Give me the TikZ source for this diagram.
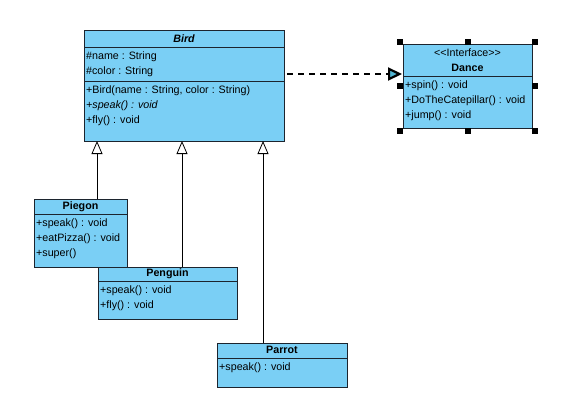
\documentclass[tikz,border=0pt]{standalone}
\usepackage{fontspec}
\setmainfont{Liberation Sans}
\usetikzlibrary{arrows.meta,calc}
\definecolor{umlfill}{RGB}{122,207,245}
\definecolor{umledge}{RGB}{28,36,46}
\definecolor{tipfill}{RGB}{80,180,210}
\begin{document}
\begin{tikzpicture}[x=1pt,y=-1pt,
  classbox/.style={draw=umledge, fill=umlfill, line width=1pt, anchor=north west, inner sep=0pt, outer sep=0pt},
  title/.style={font=\fontsize{10.7}{12}\selectfont\bfseries, anchor=center, inner sep=0pt},
  member/.style={font=\fontsize{10.7}{12}\selectfont, anchor=west, inner sep=0pt},
  divider/.style={draw=umledge, line width=0.9pt},
  inherit/.style={draw=black, line width=0.8pt, -{Triangle[open, width=11pt, length=13pt, fill=white]}},
  realize/.style={draw=black, line width=2.8pt, dash pattern=on 6pt off 5pt,
    -{Triangle[open, width=13pt, length=14pt, fill=tipfill, line width=2.2pt]}},
  handle/.style={fill=black, minimum size=6pt, inner sep=0pt, outer sep=0pt}
]
\useasboundingbox[fill=white] (0,0) rectangle (568,412);

% ---- Bird (abstract class) ----
\node[classbox, minimum width=200pt, minimum height=110pt] (bird) at (84,31) {};
\draw[divider] ($(bird.north west)+(0,16)$) -- ($(bird.north east)+(0,16)$);
\draw[divider] ($(bird.north west)+(0,50)$) -- ($(bird.north east)+(0,50)$);
\node[title, font=\fontsize{10.7}{12}\selectfont\bfseries\itshape] (birdtitle) at ($(bird.north)+(0,8)$) {Bird};
\node[member] (birdname)  at ($(bird.north west)+(2,26)$) {\#name : String};
\node[member] (birdcolor) at ($(bird.north west)+(2,41)$) {\#color : String};
\node[member] (birdctor)  at ($(bird.north west)+(2,60)$) {+Bird(name : String, color : String)};
\node[member, font=\fontsize{10.7}{12}\selectfont\itshape] (birdspeak) at ($(bird.north west)+(2,75)$) {+speak() : void};
\node[member] (birdfly)   at ($(bird.north west)+(2,90)$) {+fly() : void};

% ---- Dance (interface) ----
\node[classbox, minimum width=129pt, minimum height=83pt] (dance) at (403,45) {};
\draw[divider] ($(dance.north west)+(0,31)$) -- ($(dance.north east)+(0,31)$);
\node[title, font=\fontsize{10.7}{12}\selectfont] (dancestereo) at ($(dance.north)+(0,8)$) {<{}<Interface>{}>};
\node[title] (dancetitle) at ($(dance.north)+(0,23)$) {Dance};
\node[member] (dancespin) at ($(dance.north west)+(2,41)$) {+spin() : void};
\node[member] (dancecat)  at ($(dance.north west)+(2,56)$) {+DoTheCatepillar() : void};
\node[member] (dancejump) at ($(dance.north west)+(2,71)$) {+jump() : void};

% selection handles around Dance
\foreach \a/\dx/\dy in {north west/-3/-3, north/0/-3, north east/3/-3,
                        west/-3/0, east/3/0,
                        south west/-3/3, south/0/3, south east/3/3}
  \node[handle] at ($(dance.\a)+(\dx,\dy)$) {};

% ---- Piegon ----
\node[classbox, minimum width=93pt, minimum height=68pt] (piegon) at (34,199) {};
\draw[divider] ($(piegon.north west)+(0,15)$) -- ($(piegon.north east)+(0,15)$);
\node[title] (piegontitle) at ($(piegon.north)+(0,8)$) {Piegon};
\node[member] (piegonspeak) at ($(piegon.north west)+(2,25)$) {+speak() : void};
\node[member] (piegoneat)   at ($(piegon.north west)+(2,40)$) {+eatPizza() : void};
\node[member] (piegonsuper) at ($(piegon.north west)+(2,55)$) {+super()};

% ---- Penguin ----
\node[classbox, minimum width=139pt, minimum height=52pt] (penguin) at (98,267) {};
\draw[divider] ($(penguin.north west)+(0,14)$) -- ($(penguin.north east)+(0,14)$);
\node[title] (penguintitle) at ($(penguin.north)+(0,7)$) {Penguin};
\node[member] (penguinspeak) at ($(penguin.north west)+(2,24)$) {+speak() : void};
\node[member] (penguinfly)   at ($(penguin.north west)+(2,39)$) {+fly() : void};

% ---- Parrot ----
\node[classbox, minimum width=130pt, minimum height=44pt] (parrot) at (217,343) {};
\draw[divider] ($(parrot.north west)+(0,15)$) -- ($(parrot.north east)+(0,15)$);
\node[title] (parrottitle) at ($(parrot.north)+(0,7)$) {Parrot};
\node[member] (parrotspeak) at ($(parrot.north west)+(2,25)$) {+speak() : void};

% ---- generalisations ----
\coordinate (pgtop) at ($(piegon.north west)+(63,0)$);
\coordinate (pntop) at ($(penguin.north west)+(84,0)$);
\coordinate (prtop) at ($(parrot.north west)+(46,0)$);
\draw[inherit] (pgtop) -- (pgtop |- bird.south);
\draw[inherit] (pntop) -- (pntop |- bird.south);
\draw[inherit] (prtop) -- (prtop |- bird.south);

% ---- realization ----
\coordinate (dtip) at ($(dance.north west)+(-1,29)$);
\coordinate (dsrc) at ($(bird.east |- dtip)+(3,0)$);
\draw[realize] (dsrc) -- (dtip);
\end{tikzpicture}
\end{document}
